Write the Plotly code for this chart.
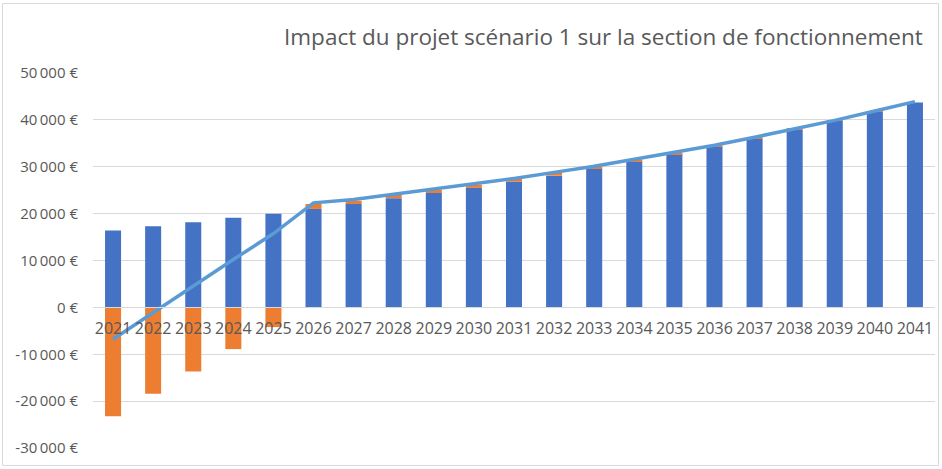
import plotly.graph_objects as go

years = [str(y) for y in range(2021, 2042)]
blue_vals = [16400, 17300, 18150, 19100, 19950, 21000, 22050, 23300, 24400, 25500,
             26800, 28100, 29700, 31150, 32700, 34250, 36000, 37870, 39800, 41800, 43700]
orange_vals = [-23200, -18400, -13700, -8900, -4200, 1050, 700, 700, 650, 700,
               600, 600, 350, 350, 300, 300, 250, 200, 100, 50, 0]
line_vals = [-6800, -1100, 4450, 10200, 15750, 22300, 23000, 24100, 25200, 26300,
             27500, 28800, 30100, 31600, 33100, 34600, 36300, 38100, 39900, 41900, 43900]
y_ticks = [-30000, -20000, -10000, 0, 10000, 20000, 30000, 40000, 50000]
y_tick_text = ["-30\u2009000 €", "-20\u2009000 €", "-10\u2009000 €", "0 €", "10\u2009000 €",
               "20\u2009000 €", "30\u2009000 €", "40\u2009000 €", "50\u2009000 €"]
title = "Impact du projet scénario 1 sur la section de fonctionnement"

W, H = 942, 469
L, R, T, B = 93, 7, 73, 21
pw, ph = W - L - R, H - T - B

fig = go.Figure()
fig.add_trace(go.Bar(x=years, y=blue_vals, marker=dict(color="#4472C4", line=dict(width=0)), showlegend=False))
fig.add_trace(go.Bar(x=years, y=orange_vals, marker=dict(color="#ED7D31", line=dict(width=0)), showlegend=False))
fig.add_trace(go.Scatter(x=years, y=line_vals, mode="lines",
                         line=dict(color="#5B9BD5", width=3.5), showlegend=False))

fig.update_layout(
    width=W, height=H,
    margin=dict(l=L, r=R, t=T, b=B),
    paper_bgcolor="white", plot_bgcolor="white",
    barmode="relative", bargap=0.6,
    font=dict(family="Open Sans, sans-serif", color="#595959"),
    annotations=[dict(text=title, xref="paper", yref="paper",
                      x=(925 - L) / pw, y=(448 - 37) / ph, xanchor="right", yanchor="middle",
                      showarrow=False, font=dict(size=22.5, color="#595959", family="Open Sans, sans-serif"))],
    shapes=[dict(type="rect", xref="paper", yref="paper",
                 x0=(2.5 - L) / pw, x1=(938.5 - L) / pw, y0=(448 - 465.5) / ph, y1=(448 - 3.5) / ph,
                 line=dict(color="#D9D9D9", width=1), layer="below")],
)
fig.update_yaxes(range=[-30000, 50000], tickvals=y_ticks, ticktext=y_tick_text,
                 showgrid=True, gridcolor="#D9D9D9", gridwidth=1, zeroline=True,
                 zerolinecolor="#D9D9D9", zerolinewidth=1, showline=False,
                 tickfont=dict(size=15, color="#595959"), ticks="", ticklabelstandoff=14,
                 fixedrange=True)
fig.update_xaxes(type="category", anchor="free", position=30000 / 80000,
                 showgrid=False, showline=True, linecolor="#D9D9D9", linewidth=1,
                 ticks="", tickfont=dict(size=16, color="#595959"), ticklabelstandoff=6,
                 zeroline=False)

fig.write_html("out.html", config={"displayModeBar": False},
               post_script="document.body.style.margin='0';")
